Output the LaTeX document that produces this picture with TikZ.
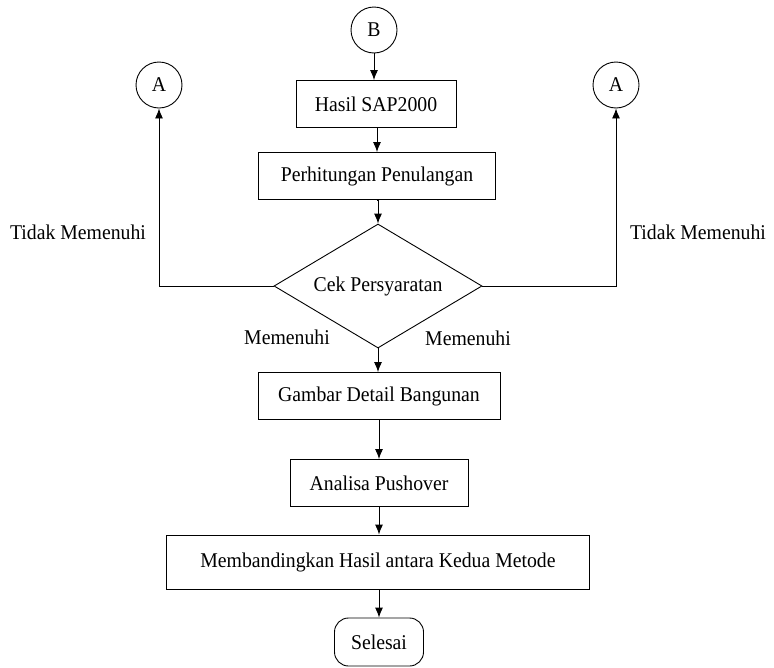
\documentclass[tikz,border=0pt]{standalone}
\usepackage{fontspec}
\setmainfont{Liberation Serif}[FakeStretch=0.94]
\usetikzlibrary{shapes.geometric,arrows.meta}
\begin{document}
\begin{tikzpicture}[x=1pt,y=-1pt,
  every node/.style={font=\fontsize{21}{25}\selectfont},
  arr/.style={line width=0.9pt,-{Latex[length=10pt,width=8pt]}},
  procbox/.style={draw,line width=0.9pt,rectangle,inner sep=0pt},
  conn/.style={draw,line width=0.9pt,circle,inner sep=0pt,minimum size=46pt},
  decision/.style={draw,line width=0.9pt,diamond,inner sep=0pt,aspect=1.677,minimum width=208pt,minimum height=124pt},
  term/.style={draw,line width=0.9pt,rectangle,rounded corners=14pt,inner sep=0pt},
  lbl/.style={inner sep=0pt}]
\useasboundingbox (0,0) rectangle (774,667);
\node[conn] (B) at (374,30) {B};
\node[conn] (AL) at (159,85) {A};
\node[conn] (AR) at (616,85) {A};
\node[procbox,minimum width=160pt,minimum height=47pt] (hasil) at (376,104) {Hasil SAP2000};
\node[procbox,minimum width=237pt,minimum height=47pt] (perh) at (377,176) {Perhitungan Penulangan};
\node[decision] (cek) at (378,286) {Cek Persyaratan};
\node[procbox,minimum width=242pt,minimum height=47pt] (gambar) at (379,396) {Gambar Detail Bangunan};
\node[procbox,minimum width=178pt,minimum height=47pt] (analisa) at (379,483) {Analisa Pushover};
\node[procbox,minimum width=423pt,minimum height=54pt] (banding) at (378,562) {Membandingkan Hasil antara Kedua Metode};
\node[term,minimum width=89pt,minimum height=48pt] (selesai) at (379,642) {Selesai};
\node[lbl] (tl) at (78,232) {Tidak Memenuhi};
\node[lbl] (tr) at (698,232) {Tidak Memenuhi};
\node[lbl] (ml) at (287,337) {Memenuhi};
\node[lbl] (mr) at (468,338) {Memenuhi};
\draw[arr] (B.south) -- (B.south |- hasil.north);
\draw[arr] (hasil.south -| perh.north) -- (perh.north);
\draw[arr] (perh.south) -- (perh.south -| cek.north) -- (cek.north);
\draw[arr] (cek.west) -| (AL.south);
\draw[arr] (cek.east) -| (AR.south);
\draw[arr] (cek.south) -- (cek.south |- gambar.north);
\draw[arr] (gambar.south) -- (analisa.north);
\draw[arr] (analisa.south) -- (analisa.south |- banding.north);
\draw[arr] (banding.south -| selesai.north) -- (selesai.north);
\end{tikzpicture}
\end{document}
